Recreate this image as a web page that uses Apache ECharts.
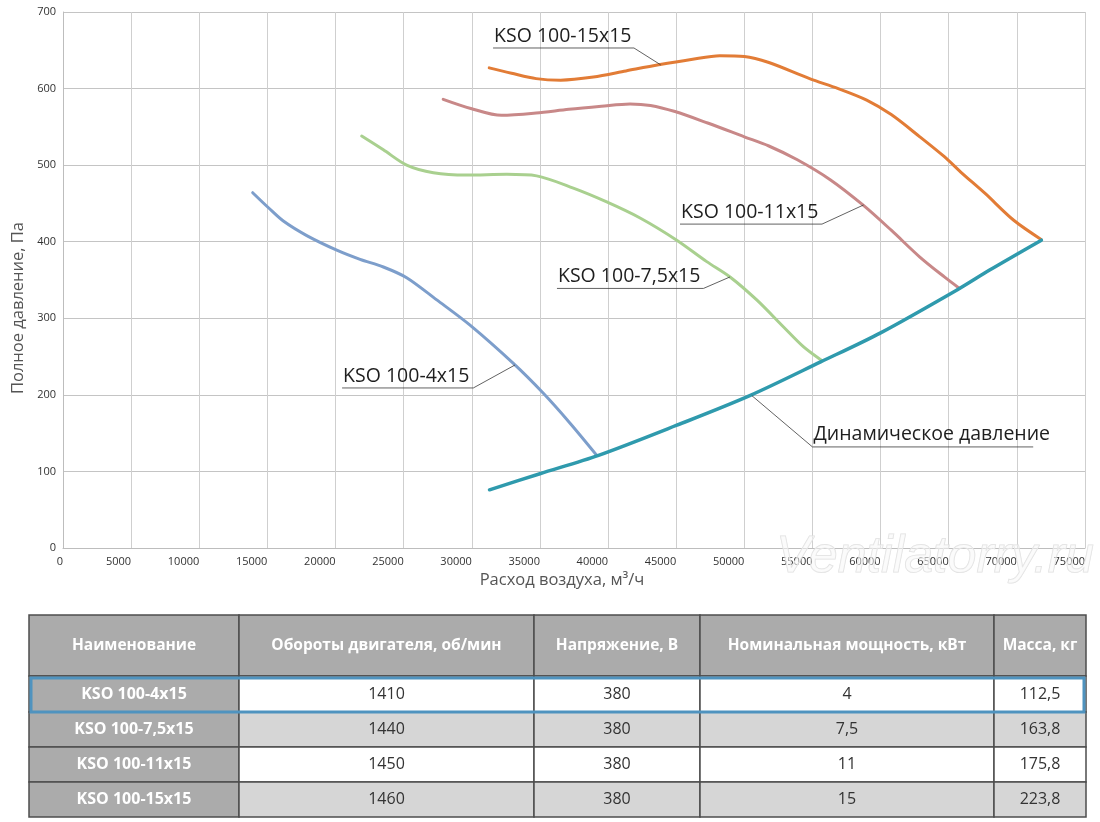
<!DOCTYPE html>
<html>
<head>
<meta charset="utf-8">
<script src="https://cdn.jsdelivr.net/npm/echarts@6/dist/echarts.min.js"></script>
<style>
  html, body { margin: 0; padding: 0; background: #fff; }
  #main { width: 1100px; height: 822px; }
</style>
</head>
<body>
<div id="main"></div>
<script>
// кривые вентиляторов: расход воздуха (м3/ч) и полное давление (Па)
const flow4 = [13920, 15100, 16170, 17890, 20090, 21800, 23510, 25220, 27430, 29870, 33050, 35250, 37210, 39170]
const press4 = [464, 444, 427, 408, 389, 377, 367, 353, 324, 291, 241, 202, 163, 121]

const flow75 = [21920, 23510, 25220, 27180, 29630, 32560, 34760, 37450, 39900, 42350, 45040, 47240, 48950, 50910, 52860, 54330, 55680]
const press75 = [538, 520, 500, 490, 487, 488, 486, 470, 452, 431, 402, 374, 354, 324, 289, 263, 245]

const flow11 = [27900, 29930, 32180, 34720, 37120, 39510, 41610, 43110, 44910, 47310, 50000, 51800, 53890, 56300, 58700, 60780, 62880, 64680, 65790]
const press11 = [586, 574, 565, 568, 573, 577, 580, 578, 570, 555, 537, 525, 507, 481, 448, 415, 380, 354, 339]

const flow15 = [31280, 32920, 34720, 36520, 38920, 41310, 43710, 46100, 48200, 50000, 51800, 54790, 56890, 58980, 60780, 62880, 64680, 65880, 67670, 69770, 71780]
const press15 = [627, 620, 613, 611, 615, 623, 631, 638, 643, 642, 634, 613, 600, 585, 566, 537, 511, 491, 463, 428, 403]

// динамическое давление
const flowDyn = [31300, 35000, 39300, 45000, 50400, 55600, 60000, 65700, 68000, 71800]
const pressDyn = [76, 97, 121, 160, 199, 243, 281, 338, 363, 402]

// подписи с выносками (в координатах графика)
const calloutNames = ['KSO 100-15x15', 'KSO 100-11x15', 'KSO 100-7,5x15', 'KSO 100-4x15', 'Динамическое давление']
const calloutLineY = [653, 423, 339, 209, 132]
const calloutFrom = [31560, 45280, 36250, 20480, 55000]
const calloutTo = [41900, 55700, 47000, 30110, 71200]
const calloutTip = [[43860, 631], [58750, 448], [48950, 354], [33170, 239], [50550, 199]]

// таблица
const tableHeaders = ['Наименование', 'Обороты двигателя, об/мин', 'Напряжение, В', 'Номинальная мощность, кВт', 'Масса, кг']
const models = ['KSO 100-4x15', 'KSO 100-7,5x15', 'KSO 100-11x15', 'KSO 100-15x15']
const rpm = ['1410', '1440', '1450', '1460']
const voltage = ['380', '380', '380', '380']
const power = ['4', '7,5', '11', '15']
const mass = ['112,5', '163,8', '175,8', '223,8']

const FONT = '"Open Sans", "DejaVu Sans", sans-serif'

const zip = (xs, ys) => xs.map((x, i) => [x, ys[i]])

function curve(name, xs, ys, color, width) {
  return {
    name: name,
    type: 'line',
    data: zip(xs, ys),
    smooth: 0.3,
    showSymbol: false,
    silent: true,
    lineStyle: { color: color, width: width, cap: 'round' }
  }
}

const chart = echarts.init(document.getElementById('main'))

const option = {
  animation: false,
  backgroundColor: '#fff',
  grid: { left: 63, top: 12, width: 1022, height: 536, containLabel: false },
  xAxis: {
    type: 'value',
    min: 0,
    max: 75000,
    interval: 5000,
    axisLine: { show: true, lineStyle: { color: '#bdbdbd', width: 1 } },
    axisTick: { show: false },
    axisLabel: {
      color: '#333',
      fontSize: 11,
      fontFamily: FONT,
      margin: 8,
      align: 'right',
      formatter: (v) => String(v)
    },
    splitLine: { show: true, lineStyle: { color: '#cfcfcf', width: 1 } }
  },
  yAxis: {
    type: 'value',
    min: 0,
    max: 700,
    interval: 100,
    axisLine: { show: true, lineStyle: { color: '#bdbdbd', width: 1 } },
    axisTick: { show: false },
    axisLabel: { color: '#333', fontSize: 11, fontFamily: FONT, margin: 7 },
    splitLine: { show: true, lineStyle: { color: '#c4c4c4', width: 1 } }
  },
  series: [
    curve('KSO 100-4x15', flow4, press4, '#7d9ecb', 3),
    curve('KSO 100-7,5x15', flow75, press75, '#a9d08f', 3),
    curve('KSO 100-11x15', flow11, press11, '#c88888', 3),
    curve('KSO 100-15x15', flow15, press15, '#e27c36', 3),
    curve('Динамическое давление', flowDyn, pressDyn, '#2f9aad', 3.5)
  ]
}

chart.setOption(option)

// дорисовываем подписи, названия осей и таблицу
const graphics = []
const toPx = (p) => chart.convertToPixel({ gridIndex: 0 }, p)

calloutNames.forEach((label, i) => {
  const a = toPx([calloutFrom[i], calloutLineY[i]])
  const b = toPx([calloutTo[i], calloutLineY[i]])
  const t = toPx(calloutTip[i])
  // выноска идёт от ближнего к кривой конца подчёркивания
  const pts = t[0] < a[0] ? [b, a, t] : [a, b, t]
  graphics.push({
    type: 'polyline',
    silent: true,
    z: 10,
    shape: { points: pts },
    style: { stroke: '#3a3a3a', lineWidth: 0.8, fill: null }
  })
  graphics.push({
    type: 'text',
    silent: true,
    z: 10,
    x: a[0] + 1,
    y: a[1] - 2,
    style: {
      text: label,
      font: '19.5px ' + FONT,
      fill: '#1e1e1e',
      textAlign: 'left',
      textVerticalAlign: 'bottom'
    }
  })
})

// названия осей
graphics.push({
  type: 'text',
  silent: true,
  x: 562,
  y: 580,
  style: {
    text: 'Расход воздуха, м³/ч',
    font: '16.5px ' + FONT,
    fill: '#555',
    textAlign: 'center',
    textVerticalAlign: 'middle'
  }
})
graphics.push({
  type: 'text',
  silent: true,
  x: 18,
  y: 308,
  rotation: Math.PI / 2,
  style: {
    text: 'Полное давление, Па',
    font: '16.5px ' + FONT,
    fill: '#555',
    textAlign: 'center',
    textVerticalAlign: 'middle'
  }
})

// водяной знак
graphics.push({
  type: 'text',
  silent: true,
  z: 20,
  x: 935,
  y: 558,
  style: {
    text: 'Ventilatorry.ru',
    font: 'italic 52px "Liberation Sans", Arial, sans-serif',
    fill: 'rgba(248,248,248,0.5)',
    stroke: '#e0e0e0',
    lineWidth: 1,
    textAlign: 'center',
    textVerticalAlign: 'middle'
  }
})

// таблица характеристик
const colX = [29, 239, 534, 700, 994, 1086]
const rowY = [615, 676, 712, 747, 782, 817]
const columns = [models, rpm, voltage, power, mass]

for (let c = 0; c < tableHeaders.length; c++) {
  const x0 = colX[c]
  const w = colX[c + 1] - x0
  graphics.push({
    type: 'rect',
    silent: true,
    shape: { x: x0, y: rowY[0], width: w, height: rowY[1] - rowY[0] },
    style: { fill: '#ababab', stroke: '#4d4d4d', lineWidth: 1.5 }
  })
  graphics.push({
    type: 'text',
    silent: true,
    x: x0 + w / 2,
    y: (rowY[0] + rowY[1]) / 2,
    style: {
      text: tableHeaders[c],
      font: 'bold 15.5px ' + FONT,
      fill: '#fff',
      textAlign: 'center',
      textVerticalAlign: 'middle'
    }
  })
  for (let r = 0; r < models.length; r++) {
    const y0 = rowY[r + 1]
    const h = rowY[r + 2] - y0
    let fill = r % 2 === 0 ? '#ffffff' : '#d6d6d6'
    if (c === 0) fill = '#ababab'
    graphics.push({
      type: 'rect',
      silent: true,
      shape: { x: x0, y: y0, width: w, height: h },
      style: { fill: fill, stroke: '#4d4d4d', lineWidth: 1.5 }
    })
    graphics.push({
      type: 'text',
      silent: true,
      x: x0 + w / 2,
      y: y0 + h / 2,
      style: {
        text: columns[c][r],
        font: (c === 0 ? 'bold 16px ' : '16px ') + FONT,
        fill: c === 0 ? '#fff' : '#333',
        textAlign: 'center',
        textVerticalAlign: 'middle'
      }
    })
  }
}

// выделенная строка
graphics.push({
  type: 'rect',
  silent: true,
  z: 5,
  shape: { x: 31, y: rowY[1] + 2, width: colX[5] - 33, height: rowY[2] - rowY[1] - 2 },
  style: { fill: null, stroke: '#4f93bf', lineWidth: 3 }
})

chart.setOption({ graphic: graphics })
</script>
</body>
</html>
